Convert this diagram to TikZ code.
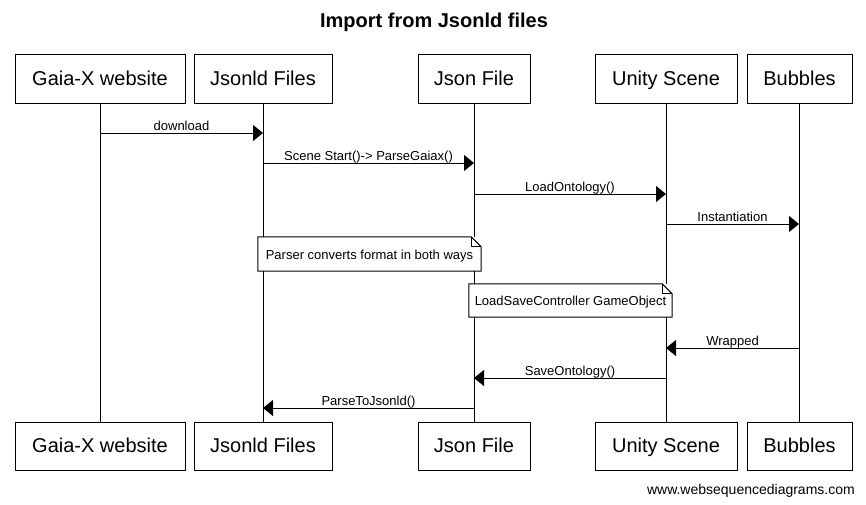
\documentclass[tikz,border=0pt]{standalone}
\usepackage{fontspec}
\setmainfont{Liberation Sans}
\usetikzlibrary{arrows.meta}
\begin{document}
\begin{tikzpicture}[x=1pt,y=-1pt,
  actor/.style={draw,line width=1pt,inner sep=0pt,minimum height=49pt,text height=16pt,text depth=3pt,font=\fontsize{20}{24}\selectfont,anchor=center},
  life/.style={line width=1pt},
  msg/.style={line width=1pt,-{Triangle[length=10pt,width=16pt]}},
  mlabel/.style={font=\fontsize{13}{15}\selectfont,anchor=base,yshift=3pt,inner sep=0pt},
  notebg/.style={fill=white,draw=none,inner sep=0pt,text height=11pt,text depth=1pt,font=\fontsize{13}{15}\selectfont},
  noteline/.style={line width=1pt,line join=miter}]
\useasboundingbox (0,0) rectangle (866,504);
\fill[white] (0,0) rectangle (866,504);
% title
\node[font=\bfseries\fontsize{20}{24}\selectfont] (title) at (434,22) {Import from Jsonld files};
% top actors
\node[actor,minimum width=170pt] (gaiaT) at (100,78.5) {Gaia-X website};
\node[actor,minimum width=138pt] (jsonldT) at (263,78.5) {Jsonld Files};
\node[actor,minimum width=112pt] (jsonT) at (474,78.5) {Json File};
\node[actor,minimum width=142pt] (unityT) at (666,78.5) {Unity Scene};
\node[actor,minimum width=105pt] (bubT) at (799.5,78.5) {Bubbles};
% bottom actors
\node[actor,minimum width=170pt,minimum height=48pt] (gaiaB) at (100,446) {Gaia-X website};
\node[actor,minimum width=138pt,minimum height=48pt] (jsonldB) at (263,446) {Jsonld Files};
\node[actor,minimum width=112pt,minimum height=48pt] (jsonB) at (474,446) {Json File};
\node[actor,minimum width=142pt,minimum height=48pt] (unityB) at (666,446) {Unity Scene};
\node[actor,minimum width=105pt,minimum height=48pt] (bubB) at (799.5,446) {Bubbles};
% lifelines
\draw[life] (gaiaT.south) -- (gaiaB.north);
\draw[life] (jsonldT.south) -- (jsonldB.north);
\draw[life] (jsonT.south) -- (jsonB.north);
\draw[life] (unityT.south) -- (unityB.north);
\draw[life] ([xshift=-0.5pt]bubT.south) -- ([xshift=-0.5pt]bubB.north);
% message rows
\coordinate (r1) at (0,133);
\coordinate (r2) at (0,163);
\coordinate (r3) at (0,194);
\coordinate (r4) at (0,224);
\coordinate (r5) at (0,348);
\coordinate (r6) at (0,378);
\coordinate (r7) at (0,408);
\coordinate (bl) at (799,0);
\draw[msg] (gaiaT.south |- r1) -- node[mlabel]{download} (jsonldT.south |- r1);
\draw[msg] (jsonldT.south |- r2) -- node[mlabel]{Scene Start()-> ParseGaiax()} (jsonT.south |- r2);
\draw[msg] (jsonT.south |- r3) -- node[mlabel]{LoadOntology()} (unityT.south |- r3);
\draw[msg] (unityT.south |- r4) -- node[mlabel]{Instantiation} (bl |- r4);
\draw[msg] (bl |- r5) -- node[mlabel]{Wrapped} (unityT.south |- r5);
\draw[msg] (unityT.south |- r6) -- node[mlabel]{SaveOntology()} (jsonT.south |- r6);
\draw[msg] (jsonT.south |- r7) -- node[mlabel]{ParseToJsonld()} (jsonldT.south |- r7);
% notes
\node[notebg,minimum width=223pt,minimum height=34pt] (note1) at (369.5,254) {Parser converts format in both ways};
\draw[noteline] (note1.south west) -- (note1.north west) -- ([xshift=-10pt]note1.north east) -- ([yshift=-10pt]note1.north east) -- (note1.south east) -- cycle;
\draw[noteline] ([xshift=-10pt]note1.north east) -- ([xshift=-10pt,yshift=-10pt]note1.north east) -- ([yshift=-10pt]note1.north east);
\node[notebg,minimum width=203pt,minimum height=33pt] (note2) at (570.5,300.5) {LoadSaveController GameObject};
\draw[noteline] (note2.south west) -- (note2.north west) -- ([xshift=-10pt]note2.north east) -- ([yshift=-10pt]note2.north east) -- (note2.south east) -- cycle;
\draw[noteline] ([xshift=-10pt]note2.north east) -- ([xshift=-10pt,yshift=-10pt]note2.north east) -- ([yshift=-10pt]note2.north east);
% footer
\node[font=\fontsize{14}{16}\selectfont,anchor=base east,inner sep=0pt] (footer) at (855,494) {www.websequencediagrams.com};
\end{tikzpicture}
\end{document}
